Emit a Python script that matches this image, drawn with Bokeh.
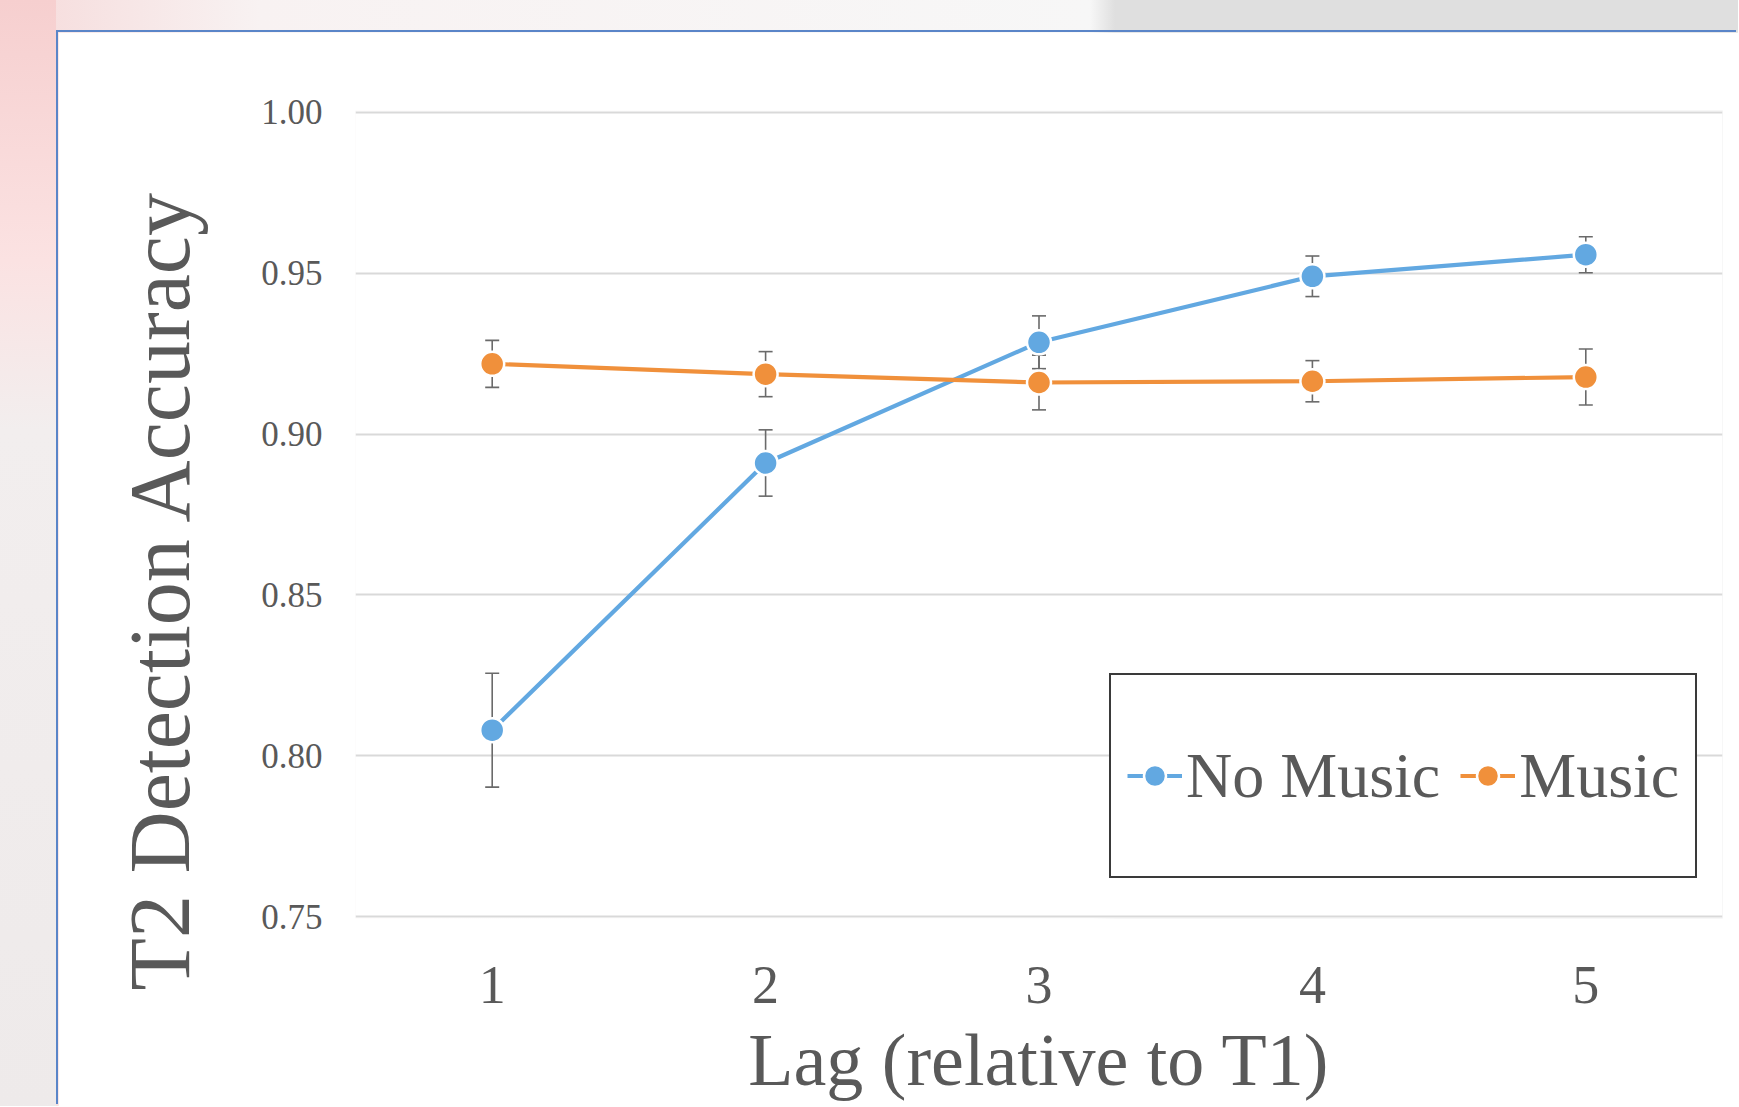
from bokeh.plotting import figure
from bokeh.models import (ColumnDataSource, Whisker, Legend, LegendItem, FactorRange,
                          Range1d, FixedTicker, TeeHead, NumeralTickFormatter, Title)
from bokeh.layouts import column
from bokeh.embed import file_html
from bokeh.resources import INLINE

# ---------------- data ----------------
lags = ["1", "2", "3", "4", "5"]
no_music = [0.808, 0.891, 0.9285, 0.949, 0.9557]
no_music_err = [0.0177, 0.0103, 0.0082, 0.0063, 0.0056]
music = [0.9218, 0.9186, 0.916, 0.9164, 0.9177]
music_err = [0.0073, 0.0070, 0.0085, 0.0064, 0.0087]
y_ticks = [0.75, 0.80, 0.85, 0.90, 0.95, 1.00]
series_names = ["No Music", "Music"]
x_title = "Lag (relative to T1)"
y_title = "T2 Detection Accuracy"

BLUE = "#62a8e1"
ORANGE = "#f0903b"
ERR = "#6a6a6a"
TEXT = "#595959"
FONT = "Liberation Serif"

src = ColumnDataSource(dict(
    lag=lags,
    nm=no_music,
    nm_up=[v + e for v, e in zip(no_music, no_music_err)],
    nm_lo=[v - e for v, e in zip(no_music, no_music_err)],
    mu=music,
    mu_up=[v + e for v, e in zip(music, music_err)],
    mu_lo=[v - e for v, e in zip(music, music_err)],
))

p = figure(
    x_range=FactorRange(*lags, range_padding=0),
    y_range=Range1d(0.7495, 1.0005),
    width=1680, height=1074,
    output_backend="svg", toolbar_location=None,
    min_border_left=297, min_border_top=78, min_border_right=16, min_border_bottom=188,
    margin=(32, 0, 0, 58),
    styles={"box-shadow": "-2px -2px 0 0 #5a85c8"},
)
p.outline_line_color = None
p.background_fill_color = "white"
p.border_fill_color = "white"

# grid
p.xgrid.grid_line_color = None
p.ygrid.grid_line_color = "#d9d9d9"
p.ygrid.grid_line_width = 2

# axes
for ax in (p.xaxis[0], p.yaxis[0]):
    ax.axis_line_color = None
    ax.major_tick_line_color = None
    ax.minor_tick_line_color = None
    ax.major_label_text_font = FONT
    ax.major_label_text_color = TEXT
    ax.axis_label_text_font = FONT
    ax.axis_label_text_color = TEXT
    ax.axis_label_text_font_style = "normal"

p.xaxis.major_label_text_font_size = "54px"
p.xaxis.major_label_standoff = 42
p.xaxis.axis_label = x_title
p.xaxis.axis_label_text_font_size = "74px"
p.xaxis.axis_label_standoff = 13

p.yaxis.ticker = FixedTicker(ticks=y_ticks)
p.yaxis.formatter = NumeralTickFormatter(format="0.00")
p.yaxis.major_label_text_font_size = "35px"
p.yaxis.major_label_standoff = 27

# y title (Excel places it a bit below the plot centre)
p.add_layout(Title(text=y_title, align="left", offset=-72, standoff=102,
                   text_font=FONT, text_font_size="86px", text_font_style="normal",
                   text_color=TEXT), "left")

# error bars
for up, lo in (("nm_up", "nm_lo"), ("mu_up", "mu_lo")):
    w = Whisker(source=src, base="lag", upper=up, lower=lo, level="underlay",
                line_color=ERR, line_width=1.6,
                upper_head=TeeHead(size=14, line_color=ERR, line_width=1.6),
                lower_head=TeeHead(size=14, line_color=ERR, line_width=1.6))
    p.add_layout(w)

# series
l1 = p.line(x="lag", y="nm", source=src, line_color=BLUE, line_width=4.2)
l2 = p.line(x="lag", y="mu", source=src, line_color=ORANGE, line_width=4.2)
s1 = p.scatter(x="lag", y="nm", source=src, size=24, fill_color=BLUE,
               line_color="white", line_width=2.5)
s2 = p.scatter(x="lag", y="mu", source=src, size=24, fill_color=ORANGE,
               line_color="white", line_width=2.5)

legend = Legend(
    items=[LegendItem(label=series_names[0], renderers=[l1, s1]),
           LegendItem(label=series_names[1], renderers=[l2, s2])],
    location=(754, 40), orientation="horizontal",
    label_text_font=FONT, label_text_font_size="64px", label_text_color=TEXT,
    border_line_color="#3a3a3a", border_line_width=2, border_line_alpha=1.0,
    background_fill_color="white", background_fill_alpha=1.0,
    padding=16, spacing=20, glyph_width=55, glyph_height=169,
    label_height=169, label_standoff=4, margin=0,
)
p.add_layout(legend, "center")

bg = ("linear-gradient(to bottom, #f6cfcf 0px, #fbe2e2 260px, #f2eeee 430px, #eeeaea 1107px) "
      "0 0 / 56px 100% no-repeat, "
      "linear-gradient(to right, #f6dada 0px, #f8f2f2 260px, #f7f7f7 1090px, #dfdfdf 1115px, #dfdfdf 100%)")
layout = column(p, styles={"background": bg})

open("out.html", "w").write(file_html(layout, INLINE))
